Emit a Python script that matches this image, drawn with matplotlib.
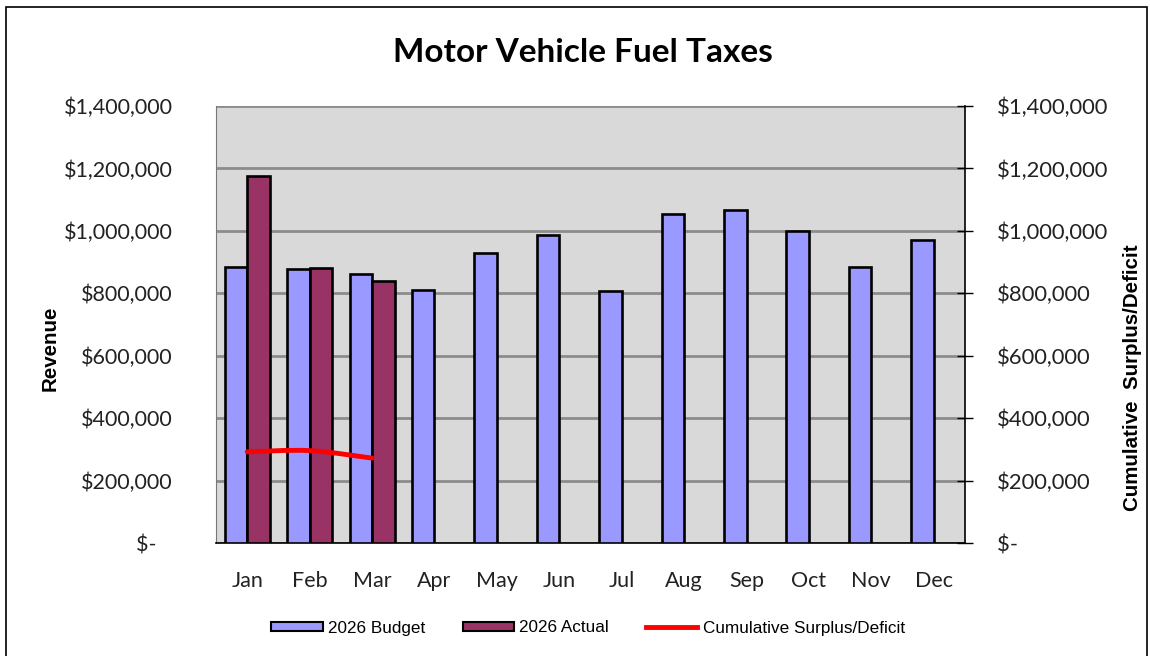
import matplotlib
matplotlib.use('Agg')
from matplotlib import pyplot as plt
from matplotlib.ticker import FuncFormatter, MultipleLocator
from matplotlib.path import Path
from matplotlib.patches import PathPatch, Rectangle
from matplotlib.lines import Line2D
import numpy as np

months = ['Jan', 'Feb', 'Mar', 'Apr', 'May', 'Jun', 'Jul', 'Aug', 'Sep', 'Oct', 'Nov', 'Dec']
budget_2026 = [885000, 877000, 863000, 810000, 929000, 987000, 807000, 1054000, 1067000, 1000000, 884000, 971000]
actual_2026 = [1177000, 881000, 839000]
cumulative = [292000, 296000, 272000]

budget_color = '#9999FF'
actual_color = '#993366'
line_color = '#FF0000'


def money(v, pos=None):
    # accounting style: zero shows as "$-" with trailing padding
    if v == 0:
        return '$-   '
    return '${:,.0f}'.format(v)


fig = plt.figure(figsize=(11.5, 6.56), dpi=100)
# outer chart border (bottom edge falls off the image)
fig.patches.append(Rectangle((6 / 1150, -0.05), 1141 / 1150, 1.05 - 7 / 656, transform=fig.transFigure,
                             fill=False, edgecolor='black', linewidth=1.2))

ax = fig.add_axes([216 / 1150, 1 - 543 / 656, 749 / 1150, 437 / 656])
ax.set_facecolor('#D9D9D9')

x = np.arange(len(months))
width = 0.36
ax.bar(x - width / 2, budget_2026, width=width, color=budget_color, edgecolor='black',
       linewidth=1.9, label='2026 Budget', zorder=3)
ax.bar(x[:len(actual_2026)] + width / 2, actual_2026, width=width, color=actual_color,
       edgecolor='black', linewidth=1.9, label='2026 Actual', zorder=3)

# smoothed cumulative line (bezier through data points)
pts = np.column_stack([x[:len(cumulative)], cumulative]).astype(float)
verts = [tuple(pts[0])]
codes = [Path.MOVETO]
n = len(pts)
for i in range(n - 1):
    p0 = pts[i - 1] if i > 0 else pts[i]
    p1, p2 = pts[i], pts[i + 1]
    p3 = pts[i + 2] if i + 2 < n else pts[i + 1]
    c1 = p1 + (p2 - p0) / 6
    c2 = p2 - (p3 - p1) / 6
    verts += [tuple(c1), tuple(c2), tuple(p2)]
    codes += [Path.CURVE4] * 3
ax.add_patch(PathPatch(Path(verts, codes), fill=False, edgecolor=line_color, linewidth=3.5,
                       capstyle='round', zorder=4))

ax.set_xlim(-0.5, len(months) - 0.5)
ax.set_ylim(0, 1400000)
ax.yaxis.set_major_locator(MultipleLocator(200000))
ax.yaxis.set_major_formatter(FuncFormatter(money))
ax.grid(axis='y', color='#8C8C8C', linewidth=2, zorder=1)
ax.set_xticks(x)
ax.set_xticklabels(months)
ax.tick_params(axis='x', length=0, pad=20, labelsize=15.5, labelcolor='#222222')
ax.tick_params(axis='y', length=0, pad=31, labelsize=15.5, labelcolor='#222222')
for lbl in ax.get_xticklabels() + ax.get_yticklabels():
    lbl.set_fontfamily('Lato')

ax.spines['top'].set_visible(False)
ax.spines['right'].set_visible(False)
ax.spines['left'].set_color('#777777')
ax.spines['bottom'].set_color('black')
ax.spines['bottom'].set_linewidth(1.2)

ax2 = ax.twinx()
ax2.set_ylim(0, 1400000)
ax2.yaxis.set_major_locator(MultipleLocator(200000))
ax2.yaxis.set_major_formatter(FuncFormatter(money))
ax2.tick_params(axis='y', direction='inout', length=11.5, width=1, pad=17, labelsize=15.8,
                labelcolor='#222222', color='black')
for lbl in ax2.get_yticklabels():
    lbl.set_fontfamily('Lato')
ax2.spines['top'].set_visible(False)
ax2.spines['left'].set_visible(False)
ax2.spines['bottom'].set_visible(False)
ax2.spines['right'].set_color('black')
ax2.spines['right'].set_linewidth(1.2)

fig.text(583 / 1150, 1 - 53 / 656, 'Motor Vehicle Fuel Taxes', ha='center', va='center',
         fontsize=24, fontweight='bold', family='Lato')
fig.text(50 / 1150, 1 - 348 / 656, 'Revenue', rotation=90, ha='center', va='center',
         fontsize=14.8, fontweight='bold', family='Liberation Sans')
fig.text(1133 / 1150, 1 - 378 / 656, 'Cumulative  Surplus/Deficit', rotation=90, ha='center',
         va='center', fontsize=14.8, fontweight='bold', family='Liberation Sans')

handles = [
    Rectangle((0, 0), 1, 1, facecolor=budget_color, edgecolor='black', linewidth=1.5),
    Rectangle((0, 0), 1, 1, facecolor=actual_color, edgecolor='black', linewidth=1.5),
    Line2D([0], [0], color=line_color, linewidth=3.5),
]
fig.legend(handles, ['2026 Budget', '2026 Actual', 'Cumulative Surplus/Deficit'],
           loc='center', bbox_to_anchor=(588 / 1150, 1 - 628 / 656), ncol=3, frameon=False,
           prop={'family': 'Liberation Sans', 'size': 12.3}, handlelength=3.0, handleheight=0.5,
           handletextpad=0.3, columnspacing=2.2)

fig.savefig('out.png', dpi=100)
